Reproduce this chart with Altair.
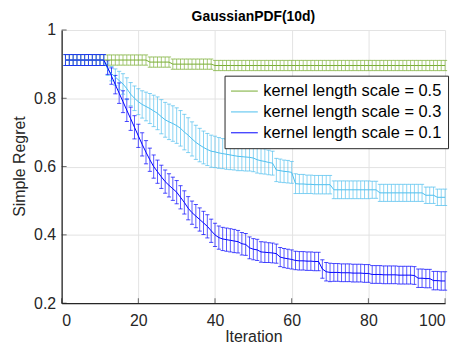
import altair as alt
import pandas as pd

iterations = list(range(1, 101))
series_names = ["kernel length scale = 0.5", "kernel length scale = 0.3", "kernel length scale = 0.1"]
series_colors = ["#77AC30", "#4DBEEE", "#0000FF"]
x_tick_values = [0, 20, 40, 60, 80, 100]
y_tick_values = [0.2, 0.4, 0.6, 0.8, 1.0]

green_mean = [
    0.912, 0.912, 0.912, 0.912, 0.912, 0.912, 0.912, 0.912, 0.912, 0.912,
    0.912, 0.912, 0.912, 0.912, 0.912, 0.912, 0.912, 0.912, 0.912, 0.912,
    0.912, 0.912, 0.906, 0.906, 0.906, 0.906, 0.906, 0.906, 0.900, 0.900,
    0.900, 0.900, 0.900, 0.900, 0.900, 0.900, 0.900, 0.900, 0.900, 0.896,
    0.896, 0.896, 0.896, 0.896, 0.896, 0.896, 0.896, 0.896, 0.896, 0.896,
    0.896, 0.896, 0.896, 0.896, 0.896, 0.896, 0.896, 0.896, 0.896, 0.896,
    0.896, 0.896, 0.896, 0.896, 0.896, 0.896, 0.896, 0.896, 0.896, 0.896,
    0.896, 0.896, 0.896, 0.896, 0.896, 0.896, 0.896, 0.896, 0.896, 0.896,
    0.896, 0.896, 0.896, 0.896, 0.896, 0.896, 0.896, 0.896, 0.896, 0.896,
    0.896, 0.896, 0.896, 0.896, 0.896, 0.896, 0.896, 0.896, 0.896, 0.896,
]
green_err = [
    0.016, 0.016, 0.016, 0.016, 0.016, 0.016, 0.016, 0.016, 0.016, 0.016,
    0.016, 0.015, 0.015, 0.015, 0.015, 0.015, 0.015, 0.015, 0.015, 0.015,
    0.015, 0.015, 0.015, 0.015, 0.015, 0.015, 0.015, 0.015, 0.015, 0.015,
    0.015, 0.015, 0.015, 0.015, 0.015, 0.015, 0.015, 0.015, 0.015, 0.015,
    0.015, 0.015, 0.015, 0.015, 0.015, 0.015, 0.015, 0.015, 0.015, 0.015,
    0.015, 0.015, 0.015, 0.015, 0.015, 0.015, 0.015, 0.015, 0.015, 0.015,
    0.015, 0.015, 0.015, 0.015, 0.015, 0.015, 0.015, 0.015, 0.015, 0.015,
    0.015, 0.015, 0.015, 0.015, 0.015, 0.015, 0.015, 0.015, 0.015, 0.015,
    0.015, 0.015, 0.015, 0.015, 0.015, 0.015, 0.015, 0.015, 0.015, 0.015,
    0.015, 0.015, 0.015, 0.015, 0.015, 0.015, 0.015, 0.015, 0.015, 0.015,
]

cyan_mean = [
    0.912, 0.912, 0.912, 0.912, 0.912, 0.912, 0.912, 0.912, 0.912, 0.912,
    0.912, 0.885, 0.872, 0.862, 0.852, 0.842, 0.828, 0.812, 0.800, 0.790,
    0.782, 0.776, 0.770, 0.763, 0.756, 0.746, 0.737, 0.731, 0.726, 0.720,
    0.712, 0.701, 0.692, 0.681, 0.671, 0.663, 0.656, 0.650, 0.645, 0.643,
    0.640, 0.638, 0.636, 0.634, 0.632, 0.630, 0.629, 0.628, 0.627, 0.625,
    0.620, 0.617, 0.615, 0.612, 0.610, 0.590, 0.588, 0.586, 0.585, 0.583,
    0.550, 0.549, 0.549, 0.548, 0.548, 0.547, 0.547, 0.547, 0.547, 0.547,
    0.532, 0.532, 0.532, 0.532, 0.532, 0.532, 0.532, 0.532, 0.532, 0.532,
    0.532, 0.532, 0.523, 0.523, 0.523, 0.523, 0.523, 0.523, 0.523, 0.523,
    0.523, 0.523, 0.523, 0.523, 0.516, 0.516, 0.516, 0.510, 0.510, 0.510,
]
cyan_err = [
    0.016, 0.016, 0.016, 0.016, 0.016, 0.016, 0.016, 0.016, 0.016, 0.016,
    0.016, 0.018, 0.021, 0.024, 0.027, 0.030, 0.032, 0.034, 0.036, 0.038,
    0.040, 0.042, 0.044, 0.046, 0.048, 0.050, 0.051, 0.052, 0.052, 0.052,
    0.052, 0.052, 0.051, 0.050, 0.050, 0.049, 0.048, 0.047, 0.047, 0.046,
    0.045, 0.044, 0.044, 0.043, 0.042, 0.042, 0.041, 0.041, 0.040, 0.040,
    0.039, 0.038, 0.037, 0.036, 0.035, 0.034, 0.034, 0.033, 0.033, 0.032,
    0.029, 0.028, 0.028, 0.027, 0.027, 0.027, 0.027, 0.027, 0.027, 0.027,
    0.026, 0.026, 0.026, 0.026, 0.026, 0.026, 0.026, 0.026, 0.026, 0.026,
    0.025, 0.025, 0.025, 0.025, 0.025, 0.025, 0.025, 0.025, 0.025, 0.025,
    0.025, 0.025, 0.025, 0.025, 0.024, 0.024, 0.024, 0.024, 0.024, 0.024,
]

blue_mean = [
    0.912, 0.912, 0.912, 0.912, 0.912, 0.912, 0.912, 0.912, 0.912, 0.912,
    0.912, 0.890, 0.865, 0.840, 0.815, 0.790, 0.765, 0.740, 0.715, 0.690,
    0.665, 0.642, 0.620, 0.600, 0.585, 0.570, 0.556, 0.545, 0.535, 0.525,
    0.510, 0.495, 0.478, 0.465, 0.455, 0.445, 0.435, 0.425, 0.412, 0.400,
    0.392, 0.388, 0.386, 0.384, 0.382, 0.380, 0.374, 0.372, 0.362, 0.358,
    0.356, 0.350, 0.349, 0.348, 0.347, 0.345, 0.335, 0.332, 0.330, 0.328,
    0.325, 0.324, 0.324, 0.323, 0.323, 0.322, 0.322, 0.300, 0.292, 0.290,
    0.290, 0.290, 0.289, 0.289, 0.289, 0.288, 0.288, 0.288, 0.287, 0.287,
    0.284, 0.284, 0.284, 0.283, 0.283, 0.283, 0.283, 0.282, 0.282, 0.282,
    0.282, 0.281, 0.273, 0.273, 0.272, 0.272, 0.266, 0.266, 0.265, 0.265,
]
blue_err = [
    0.016, 0.016, 0.016, 0.016, 0.016, 0.016, 0.016, 0.016, 0.016, 0.016,
    0.016, 0.020, 0.024, 0.027, 0.030, 0.032, 0.033, 0.034, 0.034, 0.034,
    0.034, 0.034, 0.034, 0.034, 0.034, 0.034, 0.034, 0.034, 0.034, 0.034,
    0.034, 0.034, 0.034, 0.034, 0.034, 0.034, 0.034, 0.034, 0.034, 0.034,
    0.034, 0.034, 0.034, 0.034, 0.034, 0.033, 0.033, 0.032, 0.032, 0.031,
    0.031, 0.030, 0.030, 0.029, 0.029, 0.028, 0.028, 0.028, 0.028, 0.028,
    0.027, 0.027, 0.027, 0.027, 0.027, 0.027, 0.027, 0.027, 0.027, 0.027,
    0.026, 0.026, 0.026, 0.026, 0.026, 0.026, 0.026, 0.026, 0.026, 0.026,
    0.026, 0.026, 0.026, 0.026, 0.026, 0.026, 0.026, 0.026, 0.026, 0.026,
    0.026, 0.026, 0.027, 0.027, 0.027, 0.027, 0.027, 0.027, 0.027, 0.027,
]

rows = []
for name, means, errs in zip(series_names,
                             [green_mean, cyan_mean, blue_mean],
                             [green_err, cyan_err, blue_err]):
    for it, m, e in zip(iterations, means, errs):
        rows.append({"series": name, "iter": it, "mean": m, "lo": m - e, "hi": m + e})
df = pd.DataFrame(rows)

FONT = "Liberation Sans"
TXT = "#262626"

xs = alt.Scale(domain=[0, 100], nice=False, zero=False)
ys = alt.Scale(domain=[0.2, 1.0], nice=False, zero=False)
xax = alt.Axis(values=x_tick_values, title="Iteration", format="d", tickSize=0,
               labelPadding=10, titleY=34, titleBaseline="middle")
yax = alt.Axis(values=y_tick_values, title="Simple Regret", format=".1~f", tickSize=0,
               labelPadding=6, titleX=-42, titleY=137, titleAngle=270,
               titleAlign="center", titleBaseline="middle")

color_plain = alt.Color("series:N", scale=alt.Scale(domain=series_names, range=series_colors),
                        legend=None)
color_legend = alt.Color(
    "series:N",
    scale=alt.Scale(domain=series_names, range=series_colors),
    legend=alt.Legend(
        title=None, orient="none", legendX=164, legendY=46,
        symbolType="stroke", symbolSize=729, symbolStrokeWidth=1,
        clipHeight=19, rowPadding=2, labelOffset=5, symbolOffset=0,
        padding=6, strokeColor=TXT, fillColor="white", cornerRadius=0,
        labelFont=FONT, labelFontSize=16.5, labelColor="black", labelLimit=400,
    ),
)

base = alt.Chart(df)
bars = base.mark_rule(strokeWidth=1, opacity=0.65).encode(
    x=alt.X("iter:Q", scale=xs, axis=xax),
    y=alt.Y("lo:Q", scale=ys, axis=yax),
    y2="hi:Q",
    color=color_plain,
)
caps_lo = base.mark_tick(orient="horizontal", size=4.2, thickness=1).encode(
    x=alt.X("iter:Q", scale=xs, axis=xax),
    y=alt.Y("lo:Q", scale=ys, axis=yax),
    color=color_plain,
)
caps_hi = base.mark_tick(orient="horizontal", size=4.2, thickness=1).encode(
    x=alt.X("iter:Q", scale=xs, axis=xax),
    y=alt.Y("hi:Q", scale=ys, axis=yax),
    color=color_plain,
)
lines = base.mark_line(strokeWidth=1).encode(
    x=alt.X("iter:Q", scale=xs, axis=xax),
    y=alt.Y("mean:Q", scale=ys, axis=yax),
    color=color_legend,
)

xt = alt.Chart(pd.DataFrame({"t": x_tick_values})).mark_tick(
    orient="vertical", size=5, thickness=1, yOffset=-2.5, color=TXT
).encode(x=alt.X("t:Q", scale=xs, axis=xax), y=alt.datum(0.2, scale=ys))
yt = alt.Chart(pd.DataFrame({"t": y_tick_values})).mark_tick(
    orient="horizontal", size=5, thickness=1, xOffset=2.5, color=TXT
).encode(y=alt.Y("t:Q", scale=ys, axis=yax), x=alt.datum(0, scale=xs))

chart = alt.layer(bars, caps_lo, caps_hi, lines, xt, yt).resolve_legend(
    color="independent"
).properties(
    width=386, height=275,
    title=alt.TitleParams("GaussianPDF(10d)", fontSize=14, fontWeight="bold", font=FONT,
                          color="black", anchor="middle", offset=0, dy=2, frame="group"),
    autosize=alt.AutoSizeParams(type="none"),
    padding={"left": 54, "top": 21, "right": 10, "bottom": 42},
).configure_view(stroke=None).configure_axis(
    grid=True, gridColor="#e3e3e3", gridWidth=1,
    domainColor=TXT, domainWidth=1.3,
    labelFont=FONT, labelFontSize=16, labelColor=TXT,
    titleFont=FONT, titleFontSize=16, titleFontWeight="normal", titleColor=TXT,
)

chart.save("out.html", embed_options={"renderer": "svg", "actions": False})
